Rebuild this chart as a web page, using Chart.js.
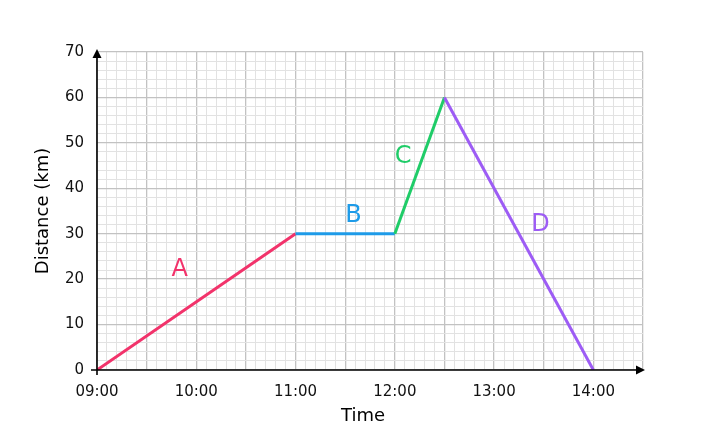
<!DOCTYPE html>
<html>
<head>
<meta charset="utf-8">
<script src="https://cdn.jsdelivr.net/npm/chart.js@4"></script>
<style>
  html, body { margin: 0; padding: 0; background: #ffffff; }
  #wrap { width: 715px; height: 429px; }
</style>
</head>
<body>
<div id="wrap"><canvas id="distChart"></canvas></div>
<script>
// journey data
const pointTimes = ['09:00', '11:00', '12:00', '12:30', '14:00'];
const pointDistances = [0, 30, 30, 60, 0];
const segmentNames = ['A', 'B', 'C', 'D'];
const labelTimes = ['09:50', '11:35', '12:05', '13:28'];
const labelDistances = [22, 34, 47, 32];
const hourTicks = ['09:00', '10:00', '11:00', '12:00', '13:00', '14:00'];
const xEnd = '14:30';
const yMax = 70;

const segmentColors = ['#f2336b', '#1e9be8', '#1fcc68', '#9d5cf5'];

const startMin = toMin(pointTimes[0]);

function toMin(t) {
  const [h, m] = t.split(':').map(Number);
  return h * 60 + m;
}

function fmt(v) {
  const total = startMin + v;
  const h = Math.floor(total / 60);
  const m = total % 60;
  return String(h).padStart(2, '0') + ':' + String(m).padStart(2, '0');
}

const points = pointTimes.map((t, i) => ({ x: toMin(t) - startMin, y: pointDistances[i] }));

// axes with arrows, segment letters and axis titles
const overlay = {
  id: 'overlay',
  afterDatasetsDraw(chart) {
    const { ctx, chartArea: a, scales } = chart;
    const x0 = scales.x.getPixelForValue(0);
    const y0 = scales.y.getPixelForValue(0);
    ctx.save();
    ctx.strokeStyle = '#000';
    ctx.fillStyle = '#000';
    ctx.lineWidth = 1.6;

    ctx.beginPath();
    ctx.moveTo(x0, y0 + 5);
    ctx.lineTo(x0, a.top + 4);
    ctx.moveTo(x0 - 6, y0);
    ctx.lineTo(a.right - 4, y0);
    ctx.stroke();

    ctx.beginPath();
    ctx.moveTo(x0, a.top - 3);
    ctx.lineTo(x0 - 4.5, a.top + 6);
    ctx.lineTo(x0 + 4.5, a.top + 6);
    ctx.closePath();
    ctx.fill();

    ctx.beginPath();
    ctx.moveTo(a.right + 2, y0);
    ctx.lineTo(a.right - 7, y0 - 4.5);
    ctx.lineTo(a.right - 7, y0 + 4.5);
    ctx.closePath();
    ctx.fill();

    ctx.font = '24px "DejaVu Sans"';
    ctx.textAlign = 'center';
    ctx.textBaseline = 'middle';
    segmentNames.forEach((name, i) => {
      ctx.fillStyle = segmentColors[i];
      ctx.fillText(name,
        scales.x.getPixelForValue(toMin(labelTimes[i]) - startMin),
        scales.y.getPixelForValue(labelDistances[i]));
    });

    ctx.fillStyle = '#000';
    ctx.font = '18px "DejaVu Sans"';
    ctx.fillText('Time', 363, 416);
    ctx.translate(43, (a.top + a.bottom) / 2);
    ctx.rotate(-Math.PI / 2);
    ctx.fillText('Distance (km)', 0, 0);
    ctx.restore();
  }
};

window.addEventListener('DOMContentLoaded', () => {
  const ctx = document.getElementById('distChart').getContext('2d');

  new Chart(ctx, {
    type: 'line',
    data: {
      datasets: [{
        data: points,
        borderWidth: 3,
        pointRadius: 0,
        tension: 0,
        borderColor: segmentColors[0],
        segment: {
          borderColor: c => segmentColors[c.p0DataIndex]
        }
      }]
    },
    options: {
      responsive: true,
      maintainAspectRatio: false,
      animation: false,
      layout: { padding: { top: 52, right: 72, left: 0, bottom: 0 } },
      plugins: {
        legend: { display: false },
        tooltip: { enabled: false }
      },
      scales: {
        x: {
          type: 'linear',
          min: 0,
          max: toMin(xEnd) - startMin,
          afterFit: s => { s.height = 59; },
          border: { display: false },
          grid: {
            drawTicks: false,
            color: c => (c.tick.value % 30 === 0 ? '#c2c2c2' : '#e2e2e2'),
            lineWidth: c => (c.tick.value % 30 === 0 ? 1.3 : 1)
          },
          ticks: {
            stepSize: 6,
            autoSkip: false,
            maxRotation: 0,
            padding: 13,
            color: '#111',
            font: { family: '"DejaVu Sans"', size: 15 },
            callback: v => (hourTicks.includes(fmt(v)) ? fmt(v) : '')
          }
        },
        y: {
          min: 0,
          max: yMax,
          afterFit: s => { s.width = 97; },
          border: { display: false },
          grid: {
            drawTicks: false,
            color: c => (c.tick.value % 10 === 0 ? '#c2c2c2' : '#e2e2e2'),
            lineWidth: c => (c.tick.value % 10 === 0 ? 1.3 : 1)
          },
          ticks: {
            stepSize: 2,
            autoSkip: false,
            padding: 13,
            color: '#111',
            font: { family: '"DejaVu Sans"', size: 15 },
            callback: v => (v % 10 === 0 ? v : '')
          }
        }
      }
    },
    plugins: [overlay]
  });
});
</script>
</body>
</html>
